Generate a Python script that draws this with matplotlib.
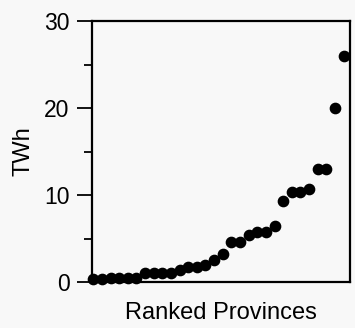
import matplotlib
matplotlib.use("Agg")
import matplotlib.pyplot as plt
from matplotlib.ticker import MultipleLocator

# electricity per province, sorted ascending (TWh)
rank = list(range(1, 31))
twh = [0.4, 0.4, 0.45, 0.5, 0.5, 0.5,
       1.0, 1.1, 1.0, 1.1, 1.4, 1.7, 1.7, 2.0, 2.5,
       3.2, 4.6, 4.6, 5.4, 5.8, 5.7, 6.5,
       9.3, 10.4, 10.4, 10.7, 13.0, 13.0, 20.0, 26.0]

plt.rcParams["font.family"] = ["Liberation Sans", "DejaVu Sans"]
bg = "#f8f8f8"

fig = plt.figure(figsize=(3.55, 3.28), dpi=100, facecolor=bg)
ax = fig.add_axes([0.259, 0.140, 0.727, 0.796], facecolor=bg)

ax.plot(rank, twh, "o", color="black", markersize=7.4, clip_on=False, zorder=3)

ax.set_xlim(0.85, 30.75)
ax.set_ylim(0, 30)
ax.set_xticks([])
ax.yaxis.set_major_locator(MultipleLocator(10))
ax.yaxis.set_minor_locator(MultipleLocator(5))
ax.tick_params(axis="y", which="major", direction="out", length=11, width=1.3,
               labelsize=16.5, pad=5)
ax.tick_params(axis="y", which="minor", direction="out", length=6, width=1.3)
for s in ax.spines.values():
    s.set_linewidth(1.6)

ax.set_ylabel("TWh", fontsize=17, labelpad=7)
ax.set_xlabel("Ranked Provinces", fontsize=17, labelpad=14)

fig.savefig("out.png", dpi=100, facecolor=bg)
